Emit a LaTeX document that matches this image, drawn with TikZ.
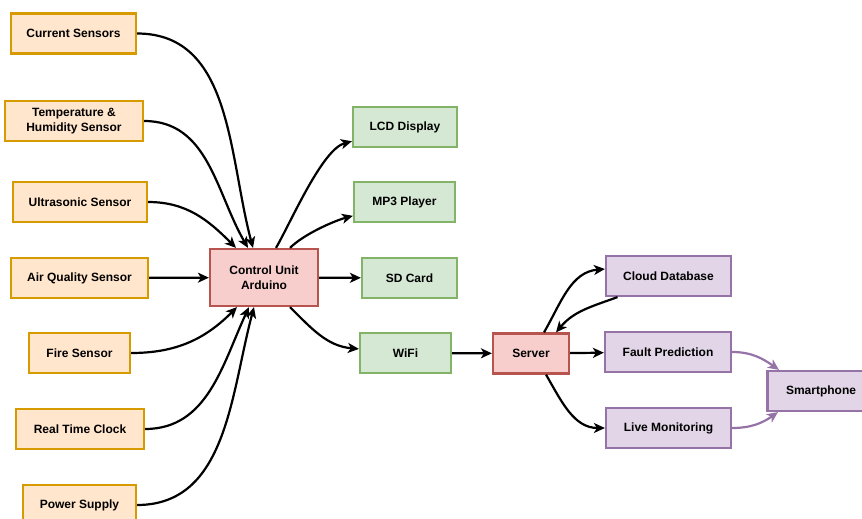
\documentclass[tikz,border=0pt]{standalone}
\usepackage{fontspec}
\setmainfont{Liberation Sans}
\usepackage{tikz}
\usetikzlibrary{arrows.meta}
\definecolor{orangefill}{HTML}{FFE6CC}
\definecolor{orangeline}{HTML}{D79B00}
\definecolor{redfill}{HTML}{F8CECC}
\definecolor{redline}{HTML}{B85450}
\definecolor{greenfill}{HTML}{D5E8D4}
\definecolor{greenline}{HTML}{82B366}
\definecolor{purplefill}{HTML}{E1D5E7}
\definecolor{purpleline}{HTML}{9673A6}

\begin{document}
\begin{tikzpicture}[x=1pt, y=-1pt, line width=2.2pt, ->, >={Stealth[length=11pt,width=10pt,inset=3pt]},
  box/.style={draw,rectangle,line width=2.2pt,minimum height=40pt,align=center,inner sep=2pt,
    font=\bfseries\fontsize{12}{15}\selectfont},
  sensor/.style={box,fill=orangefill,draw=orangeline},
  unit/.style={box,fill=redfill,draw=redline},
  output/.style={box,fill=greenfill,draw=greenline},
  cloud/.style={box,fill=purplefill,draw=purpleline}]
  \useasboundingbox (0,0) rectangle (862,519);
  \node [sensor,minimum width=125pt] (cs)   at ( 73.5, 33.5) {Current Sensors};
  \node [sensor,minimum width=138pt] (th)   at ( 74  ,121  ) {Temperature \&\\Humidity Sensor};
  \node [sensor,minimum width=134pt] (us)   at ( 80  ,202  ) {Ultrasonic Sensor};
  \node [sensor,minimum width=137pt] (aq)   at ( 79.5,278  ) {Air Quality Sensor};
  \node [sensor,minimum width=101pt] (fs)   at ( 79.5,353  ) {Fire Sensor};
  \node [sensor,minimum width=128pt] (rtc)  at ( 80  ,429  ) {Real Time Clock};
  \node [sensor,minimum width=113pt] (ps)   at ( 79.5,505  ) {Power Supply};
  \node [unit,minimum width=108pt,minimum height=57pt] (cu) at (264,277.5) {Control Unit\\Arduino};
  \node [output,minimum width=104pt] (lcd)  at (405  ,127  ) {LCD Display};
  \node [output,minimum width=101pt] (mp3)  at (404.5,202  ) {MP3 Player};
  \node [output,minimum width=95pt]  (sd)   at (409.5,278  ) {SD Card};
  \node [output,minimum width=91pt]  (wifi) at (405.5,353  ) {WiFi};
  \node [unit,minimum width=76pt]    (srv)  at (531  ,353.5) {Server};
  \node [cloud,minimum width=125pt]  (cdb)  at (668.5,276  ) {Cloud Database};
  \node [cloud,minimum width=126pt]  (fp)   at (668  ,352  ) {Fault Prediction};
  \node [cloud,minimum width=125pt]  (lm)   at (668.5,428  ) {Live Monitoring};
  \node [cloud,minimum width=107pt]  (sp)   at (821  ,391  ) {Smartphone};
  \path (cs)  edge [out=0,in=105]  ([xshift=-11pt]cu.north);
  \path (th)  edge [out=0,in=120]  ([xshift=-16pt]cu.north);
  \path (us)  edge [out=0,in=135]  ([xshift=-28pt]cu.north);
  \path (aq)  edge (cu);
  \path (fs)  edge [out=0,in=-135] ([xshift=-27pt]cu.south);
  \path (rtc) edge [out=0,in=-115] ([xshift=-15pt]cu.south);
  \path (ps)  edge [out=0,in=-105] ([xshift=-10pt]cu.south);
  \path ([xshift=12pt]cu.north) edge [out=60,in=195,looseness=0.6]  (lcd);
  \path ([xshift=26pt]cu.north) edge [out=45,in=195,looseness=0.7]  (mp3);
  \path (cu)  edge (sd);
  \path ([xshift=26pt]cu.south) edge [out=-45,in=175] (wifi);
  \path (wifi) edge (srv);
  \path ([xshift=13pt]srv.north) edge [out=60,in=185] ([yshift=7pt]cdb.west);
  \path ([xshift=-51pt]cdb.south) edge [out=200,in=50] ([xshift=25pt]srv.north);
  \path (srv) edge (fp);
  \path ([xshift=15pt]srv.south) edge [out=-60,in=180] (lm);
  \path (fp) edge [color=purpleline,out=0,in=145]  ([xshift=-42pt]sp.north);
  \path (lm) edge [color=purpleline,out=0,in=-145] ([xshift=-43pt]sp.south);
\end{tikzpicture}
\end{document}
